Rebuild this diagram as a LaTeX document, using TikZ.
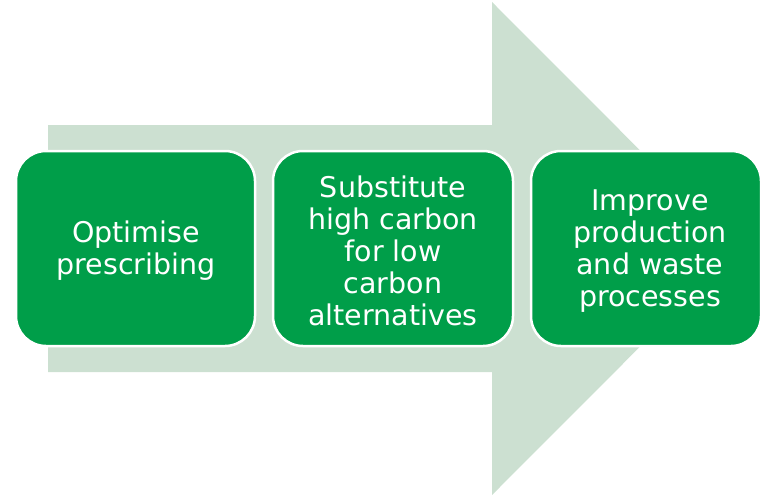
\documentclass[tikz,border=0pt]{standalone}
\usepackage{fontspec}
\setmainfont{DejaVu Sans}
\definecolor{lightgr}{RGB}{204,224,209}
\definecolor{darkgr}{RGB}{0,158,73}
\begin{document}
\begin{tikzpicture}[x=1pt,y=-1pt,
  box/.style={draw=white,line width=2.5pt,fill=darkgr,rounded corners=30pt,minimum height=195pt,inner sep=0pt},
  lbl/.style={text=white,align=center,font=\fontsize{28.5}{32}\selectfont,inner sep=0pt}]
\useasboundingbox (0,0) rectangle (762,495);
\fill[lightgr] (48,125) -- (492,125) -- (492,2) -- (738,248.5) -- (492,495) -- (492,372) -- (48,372) -- cycle;
\node[box,minimum width=239pt] (b1) at (135.5,248.5) {};
\node[box,minimum width=240pt] (b2) at (393,248.5) {};
\node[box,minimum width=230pt] (b3) at (646,248.5) {};
\node[lbl] (t1) at (136,250.5) {Optimise\\prescribing};
\node[lbl] (t2) at (393,250.5) {Substitute\\high carbon\\for low\\carbon\\alternatives};
\node[lbl] (t3) at (650,251.5) {Improve\\production\\and waste\\processes};
\end{tikzpicture}
\end{document}
